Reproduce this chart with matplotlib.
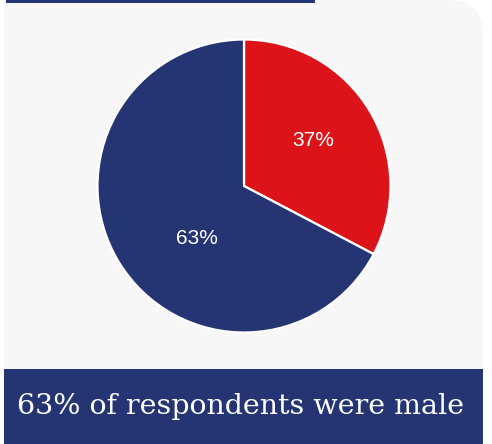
import matplotlib.pyplot as plt
from matplotlib.patches import Rectangle, FancyBboxPatch

# data (wedge sizes as drawn; the printed labels read 37% / 63%)
labels = ['Female', 'Male']
shares = [32.7, 67.3]
pct_text = ['37%', '63%']
colours = ['#dc1419', '#253573']
caption = '63% of respondents were male'

NAVY = '#253573'
CARD = '#f7f7f7'

W, H = 492, 444
fig = plt.figure(figsize=(W / 100, H / 100), dpi=100)
ax = fig.add_axes([0, 0, 1, 1])

# grey card, rounded top-right corner
ax.add_patch(FancyBboxPatch((4, 40), 479, H - 40, boxstyle='round,pad=0,rounding_size=34',
                            fc=CARD, ec='none', zorder=0))
ax.add_patch(Rectangle((4, 300), 100, H - 300, fc=CARD, ec='none', zorder=0))

# thin bar at the top
ax.add_patch(Rectangle((6, H - 2.7), 309, 3, fc=NAVY, ec='none', zorder=1))

# pie
cx, cy, r = 244, H - 186, 146.5
ax.pie(shares, colors=colours, startangle=90, counterclock=False,
       center=(cx, cy), radius=r, frame=True,
       wedgeprops=dict(edgecolor='white', linewidth=1.6))
ax.set_xlim(0, W)
ax.set_ylim(0, H)
ax.axis('off')

label_pos = [(0.47, 0.31), (-0.32, -0.355)]
for (px, py), t in zip(label_pos, pct_text):
    ax.text(cx + px * r, cy + py * r, t, color='white', fontsize=15,
            family='Liberation Sans', ha='center', va='center', zorder=5)

# caption banner
ax.add_patch(Rectangle((4, 0), 479, H - 369, fc=NAVY, ec='none', zorder=2))
ax.text(241, H - 407, caption, color='white', fontsize=20.5, family='DejaVu Serif',
        ha='center', va='center', zorder=3)

fig.savefig('out.png', dpi=100, facecolor='white')
